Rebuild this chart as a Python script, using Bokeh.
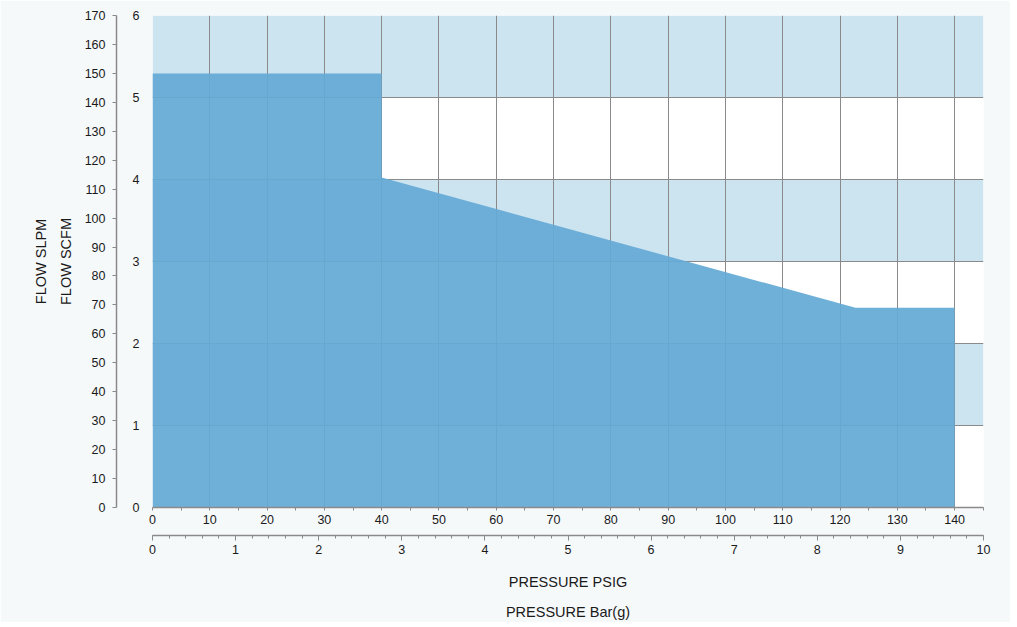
from bokeh.plotting import figure
from bokeh.models import LinearAxis, Range1d, FixedTicker, SingleIntervalTicker, Grid
from bokeh.embed import file_html
from bokeh.resources import INLINE

# ---- data ----
pressure_psig = [0, 0, 40, 40, 122.7, 140, 140]
flow_slpm = [0, 150, 150, 114, 69, 69, 0]

psi_ticks = [0, 10, 20, 30, 40, 50, 60, 70, 80, 90, 100, 110, 120, 130, 140]
psi_minor = [5, 15, 25, 35, 45, 55, 65, 75, 85, 95, 105, 115, 125, 135, 145]
slpm_ticks = [0, 10, 20, 30, 40, 50, 60, 70, 80, 90, 100, 110, 120, 130, 140, 150, 160, 170]
scfm_ticks = [0, 1, 2, 3, 4, 5, 6]
bar_max = 10
scfm_max = 6
slpm_max = 170

PSI_PER_BAR = 14.5038

FONT = "Liberation Sans"
TXT = "#1a1a1a"
AX = "#8a8a8a"
TICK_FS = "12.5px"
LABEL_FS = "14.5px"

p = figure(width=1010, height=622,
           x_range=Range1d(0, bar_max * PSI_PER_BAR),
           y_range=Range1d(0, slpm_max),
           x_axis_location=None, y_axis_location=None,
           output_backend="svg", toolbar_location=None,
           min_border_top=15, min_border_right=27,
           min_border_left=152, min_border_bottom=115)
p.extra_y_ranges = {"scfm": Range1d(0, scfm_max)}
p.extra_x_ranges = {"bar": Range1d(0, bar_max)}
p.outline_line_color = None
p.background_fill_color = "white"
p.border_fill_color = "#f6f9fa"
p.center = [c for c in p.center if not isinstance(c, Grid)]

# grids
hgrid = Grid(dimension=1, y_range_name="scfm", ticker=FixedTicker(ticks=scfm_ticks),
             grid_line_color=AX, grid_line_width=1,
             band_fill_color="#cce3f0", band_fill_alpha=1.0)
vgrid = Grid(dimension=0, ticker=FixedTicker(ticks=psi_ticks),
             grid_line_color=AX, grid_line_width=1)
p.add_layout(hgrid)
p.add_layout(vgrid)

# flow area
p.patch(pressure_psig, flow_slpm, fill_color="#64aad6", fill_alpha=0.93, line_color=None)

def style(ax):
    ax.major_label_text_font = FONT
    ax.major_label_text_font_size = TICK_FS
    ax.major_label_text_color = TXT
    ax.axis_label_text_font = FONT
    ax.axis_label_text_font_size = LABEL_FS
    ax.axis_label_text_font_style = "normal"
    ax.axis_label_text_color = TXT

def no_ticks(ax):
    ax.major_tick_line_color = None
    ax.minor_tick_line_color = None
    ax.major_tick_out = 0
    ax.major_tick_in = 0
    ax.minor_tick_out = 0
    ax.minor_tick_in = 0

# inner left: SCFM labels only
ax_scfm = LinearAxis(y_range_name="scfm", ticker=FixedTicker(ticks=scfm_ticks))
style(ax_scfm)
no_ticks(ax_scfm)
ax_scfm.axis_line_color = None
ax_scfm.major_label_standoff = 13
ax_scfm.axis_label = " "
ax_scfm.axis_label_standoff = 0
ax_scfm.axis_label_text_font_size = "9px"
p.add_layout(ax_scfm, "left")

# SLPM axis
ax_slpm = LinearAxis(ticker=FixedTicker(ticks=slpm_ticks))
style(ax_slpm)
ax_slpm.axis_line_color = AX
ax_slpm.axis_line_width = 1.5
ax_slpm.major_tick_line_color = AX
ax_slpm.major_tick_out = 4
ax_slpm.major_tick_in = 0
ax_slpm.minor_tick_line_color = None
ax_slpm.major_label_standoff = 7
ax_slpm.axis_label = "FLOW SCFM"
ax_slpm.axis_label_standoff = 8
p.add_layout(ax_slpm, "left")

ax_t1 = LinearAxis(ticker=FixedTicker(ticks=[]))
style(ax_t1)
no_ticks(ax_t1)
ax_t1.axis_line_color = None
ax_t1.axis_label = "FLOW SLPM"
ax_t1.axis_label_standoff = 6
p.add_layout(ax_t1, "left")

# PSI axis
ax_psi = LinearAxis(ticker=FixedTicker(ticks=psi_ticks, minor_ticks=psi_minor))
style(ax_psi)
ax_psi.axis_line_color = AX
ax_psi.axis_line_width = 1.5
ax_psi.major_tick_line_color = AX
ax_psi.minor_tick_line_color = AX
ax_psi.major_tick_out = 3
ax_psi.major_tick_in = 0
ax_psi.minor_tick_out = 3
ax_psi.minor_tick_in = 0
ax_psi.major_label_standoff = 4
ax_psi.axis_label = " "
ax_psi.axis_label_standoff = 0
ax_psi.axis_label_text_font_size = "6px"
p.add_layout(ax_psi, "below")

# Bar axis
ax_bar = LinearAxis(x_range_name="bar", ticker=SingleIntervalTicker(interval=1, num_minor_ticks=5))
style(ax_bar)
ax_bar.axis_line_color = AX
ax_bar.axis_line_width = 1.5
ax_bar.major_tick_line_color = AX
ax_bar.minor_tick_line_color = AX
ax_bar.major_tick_out = 5
ax_bar.major_tick_in = 0
ax_bar.minor_tick_out = 3
ax_bar.minor_tick_in = 0
ax_bar.major_label_standoff = 4
ax_bar.axis_label = "PRESSURE PSIG"
ax_bar.axis_label_standoff = 17
p.add_layout(ax_bar, "below")

ax_t2 = LinearAxis(ticker=FixedTicker(ticks=[]))
style(ax_t2)
no_ticks(ax_t2)
ax_t2.axis_line_color = None
ax_t2.axis_label = "PRESSURE Bar(g)"
ax_t2.axis_label_standoff = 11
p.add_layout(ax_t2, "below")

open("out.html", "w").write(file_html(p, INLINE))
